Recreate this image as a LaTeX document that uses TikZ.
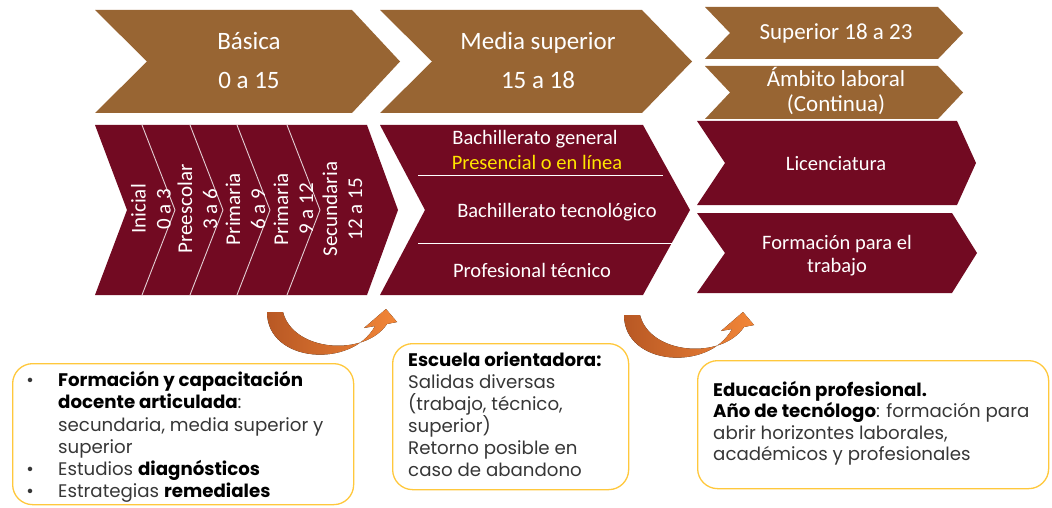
\documentclass[tikz,border=0pt]{standalone}
\usepackage{fontspec}
\setmainfont{Carlito}
\newfontfamily\pop{Poppins}
\definecolor{brn}{RGB}{152,101,51}
\definecolor{mrn}{RGB}{114,10,34}
\definecolor{ylw}{RGB}{255,228,0}
\definecolor{gld}{RGB}{255,200,60}
\definecolor{txt}{RGB}{55,55,55}
\definecolor{arA}{RGB}{184,88,36}
\definecolor{arB}{RGB}{242,134,56}
\newcommand\chevshape[7]{%
  \fill[#1] (#2,#5) -- (#3,#5) -- (#4,{(#5+#6)/2}) -- (#3,#6) -- (#2,#6) -- (#7,{(#5+#6)/2}) -- cycle;}
\begin{document}
\begin{tikzpicture}[x=1pt,y=-1pt,
  wt/.style={text=white, inner sep=0, anchor=base},
  tt/.style={wt, font=\fontsize{25}{30}\selectfont},
  rt/.style={wt, font=\fontsize{23}{27}\selectfont},
  mt/.style={wt, font=\fontsize{20.5}{24}\selectfont},
  vt/.style={text=white, inner sep=0, anchor=center, rotate=90, align=center, font=\fontsize{21}{25}\selectfont},
  divl/.style={draw=white!80!mrn, line width=0.9},
  box/.style={draw=gld, line width=1.3, rounded corners=20, anchor=north west, inner sep=0},
  bt/.style={anchor=base west, inner sep=0, text=txt, font=\pop\fontsize{18.2}{22}\selectfont},
  bb/.style={bt, anchor=base},
  arrowfill/.style={left color=arA, right color=arB}
]
\useasboundingbox (0,0) rectangle (1052,508);
\fill[white] (0,0) rectangle (1052,508);

% top brown chevrons
\chevshape{brn}{95}{352}{400}{10}{113}{147}
\chevshape{brn}{380}{642}{692}{10}{113}{432}
\node[tt] (basica) at (249,50) {Básica};
\node[tt] (basicaage) at (249,89) {0 a 15};
\node[tt] (media) at (538,50) {Media superior};
\node[tt] (mediaage) at (538,89) {15 a 18};

% right brown chevrons
\chevshape{brn}{705}{938}{963}{7}{59}{730}
\chevshape{brn}{705}{938}{963}{66}{119}{730}
\node[rt] (sup) at (836,40) {Superior 18 a 23};
\node[rt] (amb1) at (836,87) {Ámbito laboral};
\node[rt] (amb2) at (836,112) {(Continua)};

% maroon chevrons
\chevshape{mrn}{95}{367}{398}{125}{295}{127}
\chevshape{mrn}{380}{643}{690}{125}{295}{425}
\chevshape{mrn}{697}{957}{976}{121}{205}{725}
\chevshape{mrn}{697}{952}{977}{213}{293}{725}

% basic dividers
\draw[divl] (142,125) -- (175,210) -- (142,295);
\draw[divl] (190,125) -- (223,210) -- (190,295);
\draw[divl] (237,125) -- (270,210) -- (237,295);
\draw[divl] (287,125) -- (320,210) -- (287,295);
\node[vt] (s1) at (151,209) {Inicial\\0 a 3};
\node[vt] (s2) at (197.5,209) {Preescolar\\3 a 6};
\node[vt] (s3) at (245.5,209) {Primaria\\6 a 9};
\node[vt] (s4) at (293.5,209) {Primaria\\9 a 12};
\node[vt] (s5) at (342.5,209) {Secundaria\\12 a 15};

% media dividers
\draw[divl, draw=white] (418,175) -- (663,175);
\draw[divl, draw=white] (418,243) -- (672,243);
\node[mt] (bg) at (535,145) {Bachillerato general};
\node[mt, text=ylw] (pl) at (537,169) {Presencial o en línea};
\node[mt] (bt) at (557,217) {Bachillerato tecnológico};
\node[mt] (pt) at (532,277) {Profesional técnico};

\node[mt] (lic) at (836,171) {Licenciatura};
\node[mt] (ft1) at (837,249) {Formación para el};
\node[mt] (ft2) at (837,272) {trabajo};

% curved arrows
\fill[arrowfill] (267,312) .. controls (267,363) and (352,369) .. (375,326) -- (364,328) -- (386,309) -- (397,322) -- (387,324) .. controls (365,357) and (293,352) .. (283,312) -- cycle;
\begin{scope}[shift={(357,3)}]
\fill[arrowfill] (267,312) .. controls (267,363) and (352,369) .. (375,326) -- (364,328) -- (386,309) -- (397,322) -- (387,324) .. controls (365,357) and (293,352) .. (283,312) -- cycle;
\end{scope}

% boxes
\node[box, minimum width=341, minimum height=141] (boxL) at (12,363) {};
\node[box, minimum width=236, minimum height=146] (boxM) at (392,343) {};
\node[box, minimum width=351, minimum height=128] (boxR) at (697,360) {};

% left box text
\node[bb] (b1) at (30,386) {\textbullet};
\node[bb] (b2) at (30,475) {\textbullet};
\node[bb] (b3) at (30,497) {\textbullet};
\node[bt] (l1) at (58,386) {\textcolor{black}{\bfseries Formación y capacitación}};
\node[bt] (l2) at (58,408) {\textcolor{black}{\bfseries docente articulada}:};
\node[bt] (l3) at (58,431) {secundaria, media superior y};
\node[bt] (l4) at (58,453) {superior};
\node[bt] (l5) at (58,475) {Estudios \textcolor{black}{\bfseries diagnósticos}};
\node[bt] (l6) at (58,497) {Estrategias \textcolor{black}{\bfseries remediales}};

% middle box text
\node[bt] (m1) at (408,366) {\textcolor{black}{\bfseries Escuela orientadora:}};
\node[bt] (m2) at (408,388) {Salidas diversas};
\node[bt] (m3) at (408,410) {(trabajo, técnico,};
\node[bt] (m4) at (408,432) {superior)};
\node[bt] (m5) at (408,454) {Retorno posible en};
\node[bt] (m6) at (408,476) {caso de abandono};

% right box text
\node[bt] (r1) at (713,396) {\textcolor{black}{\bfseries Educación profesional.}};
\node[bt] (r2) at (713,417) {\textcolor{black}{\bfseries Año de tecnólogo}: formación para};
\node[bt] (r3) at (713,439) {abrir horizontes laborales,};
\node[bt] (r4) at (713,460) {académicos y profesionales};
\end{tikzpicture}
\end{document}
